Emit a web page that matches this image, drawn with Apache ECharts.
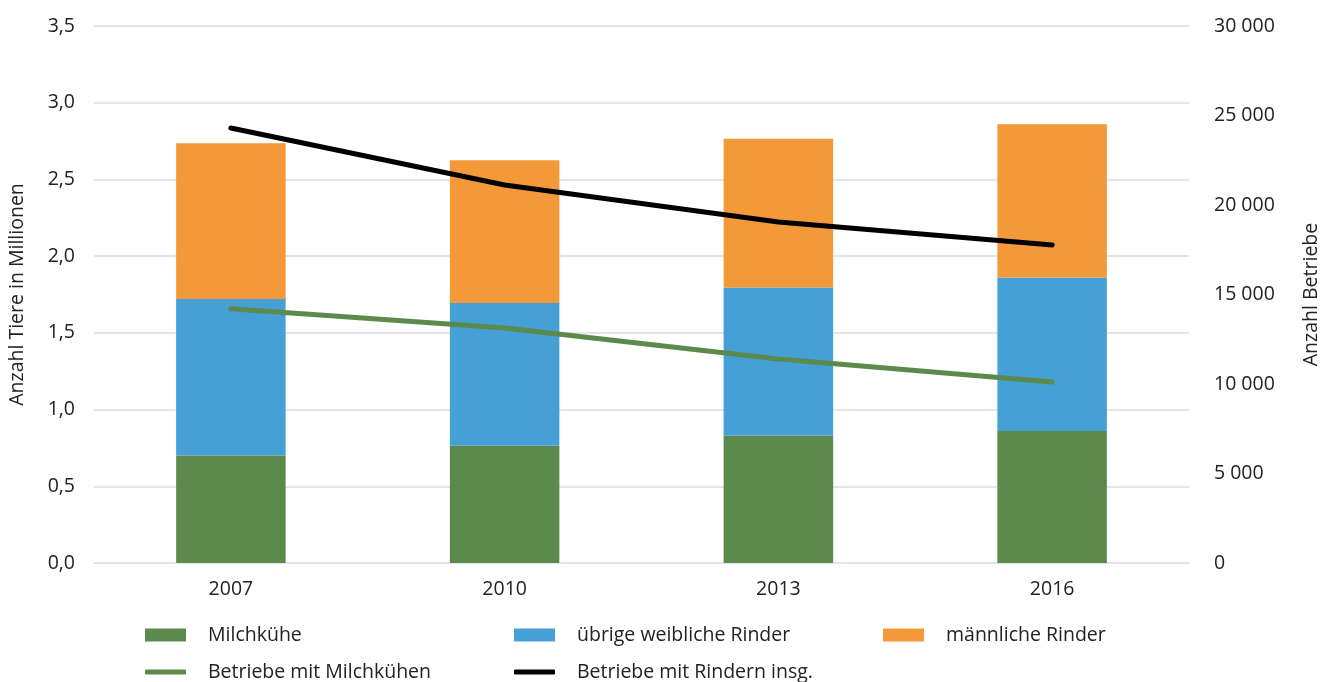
<!DOCTYPE html>
<html><head><meta charset="utf-8">
<script src="https://cdn.jsdelivr.net/npm/echarts@6/dist/echarts.min.js"></script>
<style>html,body{margin:0;padding:0;background:#fff}#c{width:1320px;height:682px}</style>
</head><body><div id="c"></div>
<script>
const categories = ['2007','2010','2013','2016'];
const milchkuehe = [0.70, 0.765, 0.83, 0.86];
const uebrigeWeiblich = [1.02, 0.93, 0.965, 1.00];
const maennlich = [1.015, 0.93, 0.97, 1.00];
const betriebeMilch = [14200, 13130, 11400, 10110];
const betriebeRinder = [24300, 21120, 19050, 17760];
const leftTicks = ['0,0','0,5','1,0','1,5','2,0','2,5','3,0','3,5'];

const FONT = '"Open Sans", "Noto Sans", sans-serif';
const FS = 19.5;
const TXT = '#222';
const chart = echarts.init(document.getElementById('c'));
function fmtThousand(v){ return String(v).replace(/\B(?=(\d{3})+(?!\d))/g, ' '); }
const lg = (name, left, top, icon, h) => ({
  data:[name], left:left, top:top, icon:icon, itemWidth:41, itemHeight:h, itemGap:0,
  textStyle:{fontFamily:FONT, fontSize:FS, color:TXT, padding:[0,0,0,17]}, selectedMode:false
});
chart.setOption({
  animation:false,
  grid:{left:94, right:131, top:26, bottom:119, containLabel:false, outerBoundsMode:'none'},
  legend:[
    lg('Milchkühe',140,620,'rect',13),
    lg('übrige weibliche Rinder',509,620,'rect',13),
    lg('männliche Rinder',878,620,'rect',13),
    lg('Betriebe mit Milchkühen',140,657,'roundRect',5),
    lg('Betriebe mit Rindern insg.',509,657,'roundRect',5)
  ],
  xAxis:{type:'category', data:categories,
    axisLine:{show:true, lineStyle:{color:'#e4e4ee', width:2}}, axisTick:{show:false},
    axisLabel:{fontFamily:FONT, fontSize:FS, color:TXT, margin:16}},
  yAxis:[
    {type:'value', min:0, max:3.5, interval:0.5,
     name:'Anzahl Tiere in Millionen', nameLocation:'middle', nameGap:67, nameRotate:90,
     nameTextStyle:{fontFamily:FONT, fontSize:FS, color:TXT},
     axisLabel:{fontFamily:FONT, fontSize:FS, color:TXT, margin:19,
       formatter:(v)=>leftTicks[Math.round(v/0.5)]},
     splitLine:{lineStyle:{color:'#e4e4ee', width:2}}, axisLine:{show:false}, axisTick:{show:false}},
    {type:'value', min:0, max:30000, interval:5000, position:'right',
     name:'Anzahl Betriebe', nameLocation:'middle', nameGap:112, nameRotate:90,
     nameTextStyle:{fontFamily:FONT, fontSize:FS, color:TXT},
     axisLabel:{fontFamily:FONT, fontSize:FS, color:TXT, margin:25, formatter:fmtThousand},
     splitLine:{show:false}, axisLine:{show:false}, axisTick:{show:false}}
  ],
  series:[
    {name:'Milchkühe', type:'bar', stack:'t', data:milchkuehe, barWidth:'40%', itemStyle:{color:'#5b8a4c'}},
    {name:'übrige weibliche Rinder', type:'bar', stack:'t', data:uebrigeWeiblich, itemStyle:{color:'#47a0d5'}},
    {name:'männliche Rinder', type:'bar', stack:'t', data:maennlich, itemStyle:{color:'#f49939'}},
    {name:'Betriebe mit Milchkühen', type:'line', yAxisIndex:1, data:betriebeMilch, symbol:'none',
     lineStyle:{color:'#5b8a4c', width:5, cap:'round'}, itemStyle:{color:'#5b8a4c'}},
    {name:'Betriebe mit Rindern insg.', type:'line', yAxisIndex:1, data:betriebeRinder, symbol:'none',
     lineStyle:{color:'#000', width:5, cap:'round'}, itemStyle:{color:'#000'}}
  ]
});
</script></body></html>
